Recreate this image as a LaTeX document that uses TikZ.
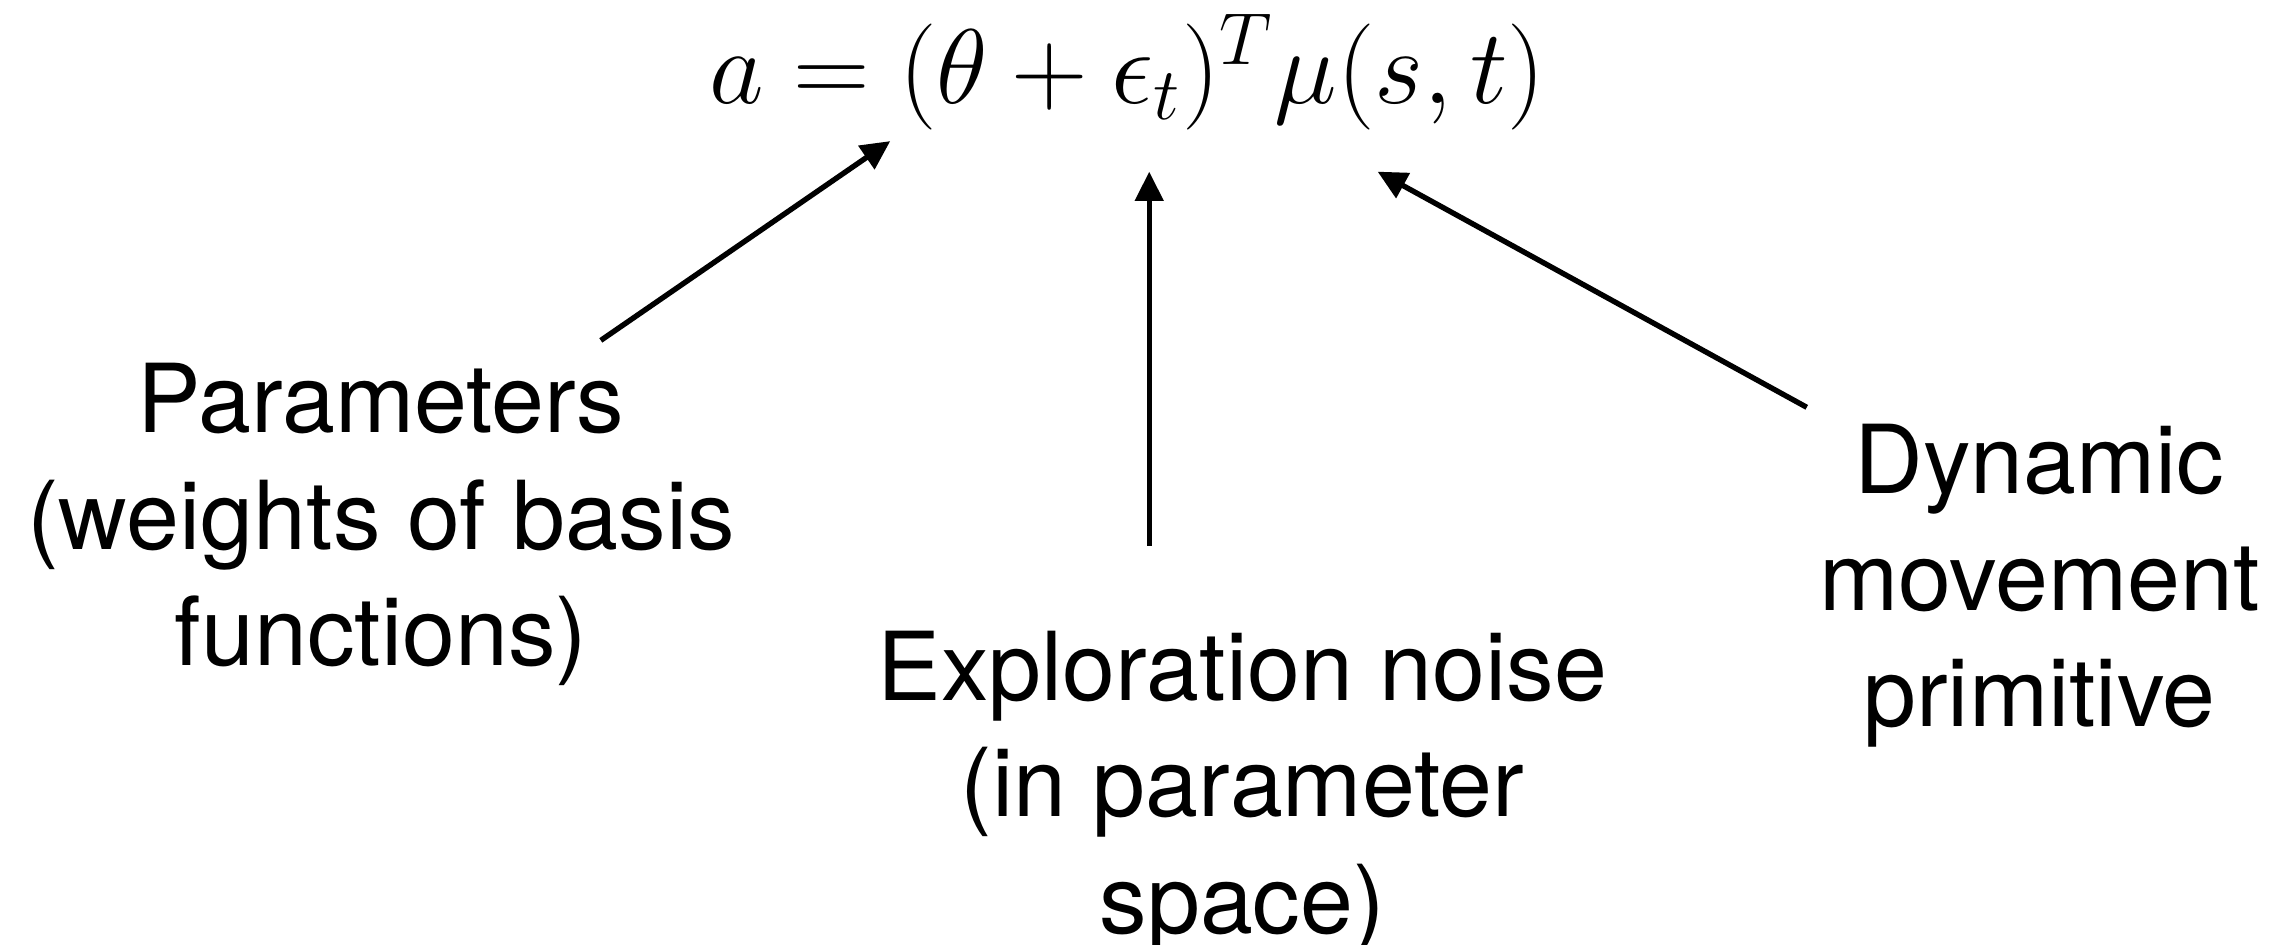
\documentclass[tikz,border=0pt]{standalone}
\usepackage{fontspec}
\setmainfont{TeX Gyre Heros}
\usetikzlibrary{arrows.meta}
\begin{document}
\begin{tikzpicture}[x=0.01cm,y=-0.01cm,
  lbl/.style={align=center, font=\fontsize{18.6}{22.8}\selectfont, inner sep=0pt},
  arr/.style={-{Triangle[length=0.2cm,width=0.19cm]}, line width=1.05pt}]
\useasboundingbox (0,0) rectangle (1568,649);
\node[anchor=base, inner sep=0pt, font=\fontsize{19.4}{24}\selectfont] (eq) at (775,71) {$a=(\theta+\epsilon_t)^T\mu(s,t)$};
\node[lbl, anchor=north] (par) at (262,249) {Parameters\\(weights of basis\\functions)};
\node[lbl, anchor=north] (exp) at (854,433) {Exploration noise\\(in parameter\\space)};
\node[lbl, anchor=north] (dmp) at (1402,291) {Dynamic\\movement\\primitive};
\coordinate (p1) at (413,234); \coordinate (q1) at (612,97);
\coordinate (p2) at (790,375); \coordinate (q2) at (790,118);
\coordinate (p3) at (1242,280); \coordinate (q3) at (947,118);
\draw[arr] (p1) -- (q1);
\draw[arr] (p2) -- (q2);
\draw[arr] (p3) -- (q3);
\end{tikzpicture}
\end{document}
